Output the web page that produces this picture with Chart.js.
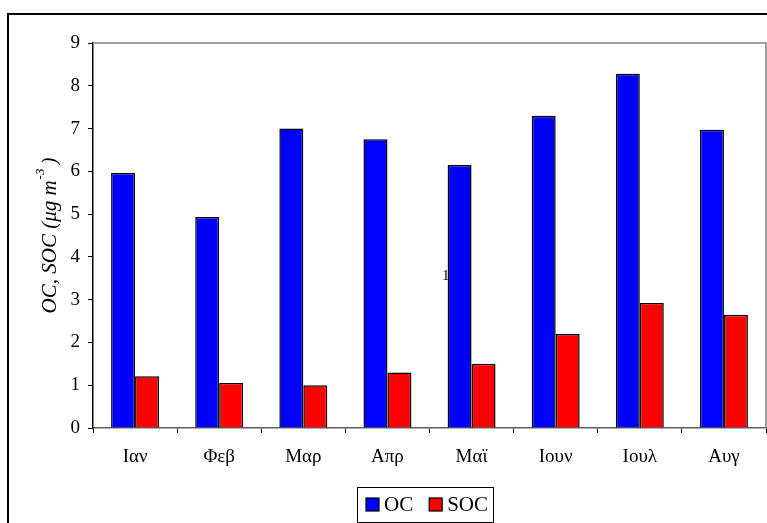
<!DOCTYPE html>
<html>
<head>
<meta charset="utf-8">
<script src="https://cdn.jsdelivr.net/npm/chart.js@4/dist/chart.umd.min.js"></script>
<style>
  html, body { margin: 0; padding: 0; background: #fff; }
  #wrap { width: 767px; height: 523px; }
</style>
</head>
<body>
<div id="wrap"><canvas id="myChart" width="767" height="523"></canvas></div>
<script>
// Μηνιαίες τιμές OC και SOC (μg m-3)
var mines = ['Ιαν', 'Φεβ', 'Μαρ', 'Απρ', 'Μαϊ', 'Ιουν', 'Ιουλ', 'Αυγ'];
var timesOC = [5.96, 4.93, 7.0, 6.75, 6.15, 7.3, 8.28, 6.97];
var timesSOC = [1.21, 1.05, 1.0, 1.3, 1.5, 2.2, 2.92, 2.65];
var yMin = 0, yMax = 9, yStep = 1;

var serif = '"Liberation Serif", "DejaVu Serif", serif';

// plaisio, titlos axona y, ypomnima
var plaisia = {
  id: 'plaisia',
  beforeDatasetsDraw: function (chart) {
    var ctx = chart.ctx;
    ctx.save();
    ctx.fillStyle = '#000';
    ctx.font = '15px ' + serif;
    ctx.textAlign = 'right';
    ctx.textBaseline = 'middle';
    ctx.fillText('1', chart.scales.x.getPixelForValue(4) - 22, 276);
    ctx.restore();
  },
  afterDraw: function (chart) {
    var ctx = chart.ctx;
    var a = chart.chartArea;
    ctx.save();

    // exoteriko plaisio
    ctx.strokeStyle = '#000';
    ctx.lineWidth = 2;
    ctx.beginPath();
    ctx.moveTo(8, 523);
    ctx.lineTo(8, 14);
    ctx.lineTo(767, 14);
    ctx.stroke();

    // panw kai dexia akri perioxis
    ctx.strokeStyle = '#808080';
    ctx.lineWidth = 1.5;
    ctx.beginPath();
    ctx.moveTo(a.left, a.top);
    ctx.lineTo(a.right, a.top);
    ctx.lineTo(a.right, a.bottom);
    ctx.stroke();

    // titlos axona y me ektheti
    var cy = (a.top + a.bottom) / 2;
    ctx.translate(50, cy);
    ctx.rotate(-Math.PI / 2);
    ctx.fillStyle = '#000';
    ctx.textBaseline = 'middle';
    ctx.textAlign = 'left';
    var f1 = 'italic 21px ' + serif;
    var f2 = 'italic 13px ' + serif;
    var s1 = 'OC, SOC (μg m', s2 = '-3', s3 = ')';
    ctx.font = f1;
    var w1 = ctx.measureText(s1).width, w3 = ctx.measureText(s3).width;
    ctx.font = f2;
    var w2 = ctx.measureText(s2).width;
    var x0 = -(w1 + w2 + w3 + 5) / 2;
    ctx.font = f1;
    ctx.fillText(s1, x0, 0);
    ctx.font = f2;
    ctx.fillText(s2, x0 + w1 + 1, -9);
    ctx.font = f1;
    ctx.fillText(s3, x0 + w1 + w2 + 5, 0);
    ctx.setTransform(1, 0, 0, 1, 0, 0);

    // ypomnima
    var ds = chart.data.datasets;
    var fs = 21, sq = 13, gapTxt = 5, gapItem = 16, padL = 9, padR = 5;
    ctx.font = fs + 'px ' + serif;
    var total = 0;
    ds.forEach(function (d, i) {
      total += sq + gapTxt + ctx.measureText(d.label).width + (i < ds.length - 1 ? gapItem : 0);
    });
    var boxW = total + padL + padR;
    var boxL = Math.round((a.left + a.right) / 2 - 4 - boxW / 2);
    var boxT = 487, boxH = 35, midY = boxT + boxH / 2;
    ctx.strokeStyle = '#000';
    ctx.lineWidth = 1;
    ctx.strokeRect(boxL + 0.5, boxT + 0.5, Math.round(boxW), boxH);
    var x = boxL + padL;
    ctx.textAlign = 'left';
    ctx.textBaseline = 'middle';
    ds.forEach(function (d) {
      ctx.fillStyle = d.backgroundColor;
      ctx.fillRect(x, midY - sq / 2, sq, sq);
      ctx.lineWidth = 1.2;
      ctx.strokeStyle = '#000';
      ctx.strokeRect(x, midY - sq / 2, sq, sq);
      x += sq + gapTxt;
      ctx.fillStyle = '#000';
      ctx.fillText(d.label, x, midY + 1);
      x += ctx.measureText(d.label).width + gapItem;
    });
    ctx.restore();
  }
};

var ctx = document.getElementById('myChart').getContext('2d');
var myChart = new Chart(ctx, {
  type: 'bar',
  data: {
    labels: mines,
    datasets: [
      {
        label: 'OC',
        data: timesOC,
        backgroundColor: '#0000FF',
        borderColor: '#000',
        borderWidth: 1.5,
        categoryPercentage: 0.57,
        barPercentage: 1.0
      },
      {
        label: 'SOC',
        data: timesSOC,
        backgroundColor: '#FF0000',
        borderColor: '#000',
        borderWidth: 1.5,
        categoryPercentage: 0.57,
        barPercentage: 1.0
      }
    ]
  },
  options: {
    responsive: false,
    animation: false,
    layout: { padding: { left: 0, top: 43, right: 1, bottom: 0 } },
    plugins: {
      title: { display: false },
      tooltip: { enabled: false },
      legend: { display: false }
    },
    scales: {
      x: {
        afterFit: function (scale) { scale.height = 95; },
        border: { display: true, color: '#606060', width: 1.5 },
        grid: { display: true, drawOnChartArea: false, color: '#000', tickLength: 5, tickWidth: 1 },
        ticks: { color: '#000', padding: 13, font: { family: serif, size: 19 } }
      },
      y: {
        min: yMin,
        max: yMax,
        afterFit: function (scale) { scale.width = 93; },
        border: { display: true, color: '#000', width: 1.5 },
        grid: { display: true, drawOnChartArea: false, color: '#000', tickLength: 5, tickWidth: 1 },
        ticks: { stepSize: yStep, color: '#000', padding: 8, font: { family: serif, size: 19 } },
        title: { display: false }
      }
    }
  },
  plugins: [plaisia]
});
</script>
</body>
</html>
